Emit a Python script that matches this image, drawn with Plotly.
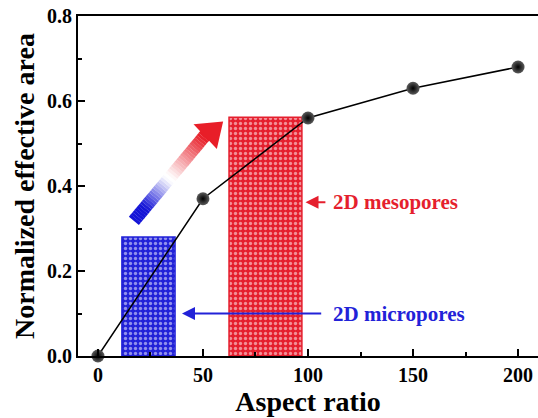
import plotly.graph_objects as go

aspect_ratio = [0, 50, 100, 150, 200]
effective_area = [0.0, 0.37, 0.56, 0.63, 0.68]

# pore regions: (x start, x end, height)
micro_x = [11.4, 36.7]
micro_h = 0.28
meso_x = [62.4, 97.1]
meso_h = 0.562

x_ticks = [0, 50, 100, 150, 200]
y_ticks = [0.0, 0.2, 0.4, 0.6, 0.8]

BLUE = "#2222d8"
RED = "#e51f2e"
FONT = "Liberation Serif"

fig = go.Figure()

fig.add_trace(go.Bar(
    x=[(micro_x[0] + micro_x[1]) / 2], y=[micro_h], width=[micro_x[1] - micro_x[0]],
    marker=dict(color=BLUE, line=dict(color=BLUE, width=1.5),
                pattern=dict(shape=".", fillmode="overlay", fgcolor="white", size=5, solidity=0.35)),
    showlegend=False, hoverinfo="skip"))
fig.add_trace(go.Bar(
    x=[(meso_x[0] + meso_x[1]) / 2], y=[meso_h], width=[meso_x[1] - meso_x[0]],
    marker=dict(color=RED, line=dict(color=RED, width=1.5),
                pattern=dict(shape=".", fillmode="overlay", fgcolor="white", size=5, solidity=0.35)),
    showlegend=False, hoverinfo="skip"))

fig.add_trace(go.Scatter(
    x=aspect_ratio, y=effective_area, mode="lines+markers",
    line=dict(color="black", width=1.5),
    marker=dict(size=13, color="#5c5c5c", gradient=dict(type="radial", color="black"),
                line=dict(color="black", width=0)),
    showlegend=False, cliponaxis=False))

# gradient arrow (blue -> white -> red)
x0, y0 = 17.1, 0.318
x1, y1 = 52.0, 0.525
n = 40
def mix(c1, c2, t):
    return "rgb(%d,%d,%d)" % tuple(int(a + (b - a) * t) for a, b in zip(c1, c2))
blue_rgb = (20, 20, 215)
red_rgb = (232, 30, 40)
white = (255, 255, 255)
for i in range(n):
    t0 = i / n
    t1 = (i + 1.05) / n
    tm = (t0 + t1) / 2
    if tm < 0.47:
        c = mix(blue_rgb, white, max(0, (tm - 0.15) / 0.32))
    else:
        c = mix(white, red_rgb, min(max(0, (tm - 0.5) / 0.45), 1))
    fig.add_shape(type="line", xref="x", yref="y",
                  x0=x0 + (x1 - x0) * t0, y0=y0 + (y1 - y0) * t0,
                  x1=x0 + (x1 - x0) * t1, y1=y0 + (y1 - y0) * t1,
                  line=dict(color=c, width=13), layer="above")
# arrowhead
fig.add_shape(type="path", xref="x", yref="y",
              path="M 59.6,0.552 L 45.5,0.545 L 56.6,0.487 Z",
              fillcolor="rgb(232,30,40)", line=dict(width=0), layer="above")

fig.add_annotation(x=40, y=0.1, ax=107, ay=0.1, xref="x", yref="y", axref="x", ayref="y",
                   text="", showarrow=True, arrowhead=2, arrowsize=1.3, arrowwidth=2, arrowcolor=BLUE)
fig.add_annotation(x=111, y=0.1, xref="x", yref="y", text="<b>2D micropores</b>", showarrow=False,
                   xanchor="left", yanchor="middle", font=dict(family=FONT, size=21, color=BLUE))
fig.add_annotation(x=98.8, y=0.362, ax=109, ay=0.362, xref="x", yref="y", axref="x", ayref="y",
                   text="", showarrow=True, arrowhead=2, arrowsize=1.3, arrowwidth=2, arrowcolor=RED)
fig.add_annotation(x=111, y=0.362, xref="x", yref="y", text="<b>2D mesopores</b>", showarrow=False,
                   xanchor="left", yanchor="middle", font=dict(family=FONT, size=21, color=RED))

fig.update_layout(
    width=538, height=418, margin=dict(l=78, r=0, t=16, b=62),
    plot_bgcolor="white", paper_bgcolor="white", barmode="overlay",
    font=dict(family=FONT, color="black"),
    xaxis=dict(range=[-9.5, 209.5], tickvals=x_ticks, ticktext=["<b>%d</b>" % v for v in x_ticks],
               ticks="inside", ticklen=7, tickwidth=2, tickcolor="black",
               minor=dict(tickvals=[25, 75, 125, 175], ticks="inside", ticklen=4, tickwidth=1.5, tickcolor="black"),
               showline=True, linecolor="black", linewidth=2, mirror=True, showgrid=False, zeroline=False,
               tickfont=dict(family=FONT, size=20),
               title=dict(text="<b>Aspect ratio</b>", font=dict(family=FONT, size=28), standoff=2)),
    yaxis=dict(range=[0, 0.8], tickvals=y_ticks, ticktext=["<b>%.1f</b>" % v for v in y_ticks],
               ticks="inside", ticklen=7, tickwidth=2, tickcolor="black",
               minor=dict(tickvals=[0.1, 0.3, 0.5, 0.7], ticks="inside", ticklen=4, tickwidth=1.5, tickcolor="black"),
               showline=True, linecolor="black", linewidth=2, mirror=False, showgrid=False, zeroline=False,
               tickfont=dict(family=FONT, size=20),
               title=dict(text="<b>Normalized effective area</b>", font=dict(family=FONT, size=28), standoff=4)),
)

fig.write_html("out.html")
